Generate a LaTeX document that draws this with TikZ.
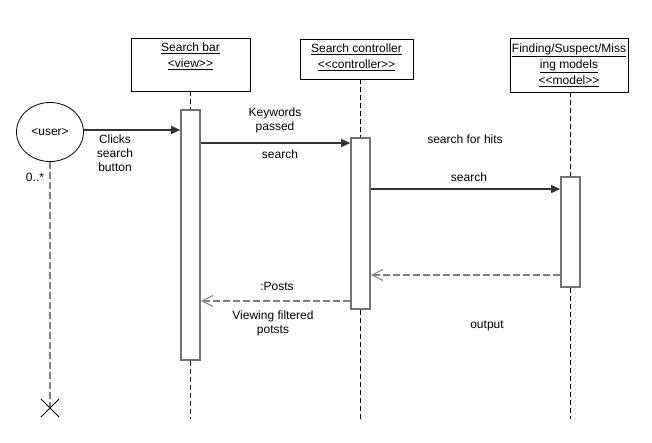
\documentclass[tikz,border=0pt]{standalone}
\usepackage{fontspec}
\setmainfont{Liberation Sans}
\usetikzlibrary{arrows.meta,shapes.geometric}
\begin{document}
\begin{tikzpicture}[x=1pt,y=-1pt,
  every node/.style={font=\fontsize{12}{14}\selectfont, inner sep=0pt},
  objbox/.style={draw, line width=0.8pt, fill=white},
  boxtext/.style={align=center, font=\fontsize{12}{16}\selectfont},
  lifeline/.style={draw, line width=0.7pt, dash pattern=on 5pt off 3pt},
  actbar/.style={draw=gray!90!black, line width=1.6pt, fill=white},
  msg/.style={draw=black!80, line width=1.1pt, -{Triangle[length=9pt,width=8pt]}},
  ret/.style={draw=gray, line width=1.1pt, dash pattern=on 7pt off 3pt, -{Straight Barb[length=11pt,width=11pt,line width=1pt]}},
  lbl/.style={align=center}
]
\useasboundingbox (0,0) rectangle (652,442);

% object boxes
\node[objbox, minimum width=119pt, minimum height=53pt] (sb) at (190.5,64.5) {};
\node[boxtext] (sbt) at (190.5,56) {\underline{Search bar}\\\underline{<view>{}>}};
\node[objbox, minimum width=113pt, minimum height=40pt] (sc) at (356.5,59) {};
\node[boxtext] (sct) at (356.5,57) {\underline{Search controller}\\\underline{<{}<controller>{}>}};
\node[objbox, minimum width=118pt, minimum height=54pt] (md) at (569,65) {};
\node[boxtext] (mdt) at (569,65) {\underline{Finding/Suspect/Miss}\\\underline{ing models}\\\underline{<{}<model>{}>}};

% lifeline ends
\coordinate (e1) at (190.5,419);
\coordinate (e2) at (360.5,419);
\coordinate (e3) at (570.5,419);

% activation bars
\node[actbar, minimum width=19pt, minimum height=250pt] (a1) at (190.5,235) {};
\node[actbar, minimum width=19pt, minimum height=171pt] (a2) at (360.5,223.5) {};
\node[actbar, minimum width=19pt, minimum height=110pt] (a3) at (570.5,232) {};

% lifelines
\draw[lifeline] (sb.south) -- (a1.north);
\draw[lifeline] (a1.south) -- (e1);
\draw[lifeline] (sc.south -| a2.north) -- (a2.north);
\draw[lifeline] (a2.south) -- (e2);
\draw[lifeline] (md.south -| a3.north) -- (a3.north);
\draw[lifeline] (a3.south) -- (e3);

% user
\node[draw, ellipse, line width=0.8pt, minimum width=67pt, minimum height=59pt] (user) at (50,132) {<user>};
\coordinate (ux) at (50,408);
\draw[draw=gray, line width=1.6pt, dash pattern=on 7pt off 3pt] (user.south) -- (ux);
\draw[line width=0.8pt] ([shift={(-9,-9)}]ux) -- ([shift={(9,9)}]ux)
                        ([shift={(9,-9)}]ux) -- ([shift={(-9,9)}]ux);
\node (mult) at (35,177) {0..*};

% message rows
\coordinate (m0) at (0,130);
\coordinate (m1) at (0,143);
\coordinate (m2) at (0,189);
\coordinate (m3) at (0,275);
\coordinate (m4) at (0,301);

\draw[msg] (user.east |- m0) -- (a1.west |- m0);
\draw[msg] (a1.east |- m1) -- (a2.west |- m1);
\draw[msg] (a2.east |- m2) -- (a3.west |- m2);
\draw[ret] (a3.west |- m3) -- (a2.east |- m3);
\draw[ret] (a2.west |- m4) -- (a1.east |- m4);

% labels
\node[lbl] (l1) at (115,153) {Clicks\\search\\button};
\node[lbl] (l2) at (275,120) {Keywords\\passed};
\node (l3) at (280,154) {search};
\node (l4) at (465,139) {search for hits};
\node (l5) at (469,177) {search};
\node (l6) at (277,286) {:Posts};
\node[lbl] (l7) at (273,323) {Viewing filtered\\potsts};
\node (l8) at (487,326) {output};
\end{tikzpicture}
\end{document}
